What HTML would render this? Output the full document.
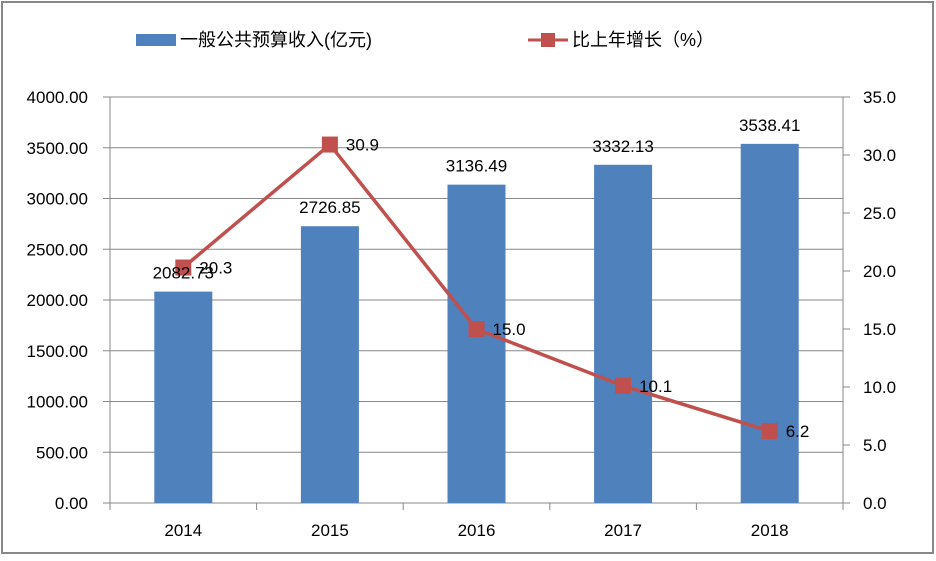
<!DOCTYPE html>
<html><head><meta charset="utf-8"><style>
body{margin:0;background:#fff}
svg text{font-family:"Liberation Sans","Noto Sans CJK SC",sans-serif;fill:#000}
</style></head><body>
<svg id="c" width="936" height="556" xmlns="http://www.w3.org/2000/svg">
<rect x="2" y="2" width="931" height="551" fill="#fff" stroke="#888" stroke-width="2"/>
<g id="grid"></g><g id="bars"></g><g id="line"></g><g id="labels"></g>
<g>
<rect x="136" y="34" width="40" height="12" fill="#4f81bd"/>
<text x="180" y="46" font-size="18">一般公共预算收入(亿元)</text>
<line x1="528" y1="40" x2="568" y2="40" stroke="#c0504d" stroke-width="3"/>
<rect x="541" y="33" width="14" height="14" fill="#c0504d"/>
<text x="572" y="46" font-size="18">比上年增长（%）</text>
</g>
</svg>
<script>
const categories=["2014","2015","2016","2017","2018"];
const revenue=[2082.73,2726.85,3136.49,3332.13,3538.41];
const growth=[20.3,30.9,15.0,10.1,6.2];
const leftTicks=[0,500,1000,1500,2000,2500,3000,3500,4000];
const rightTicks=[0,5,10,15,20,25,30,35];
const NS="http://www.w3.org/2000/svg";
const X0=110,X1=843,Y0=503,Y1=97;
const yL=v=>Y0-(v/4000)*(Y0-Y1);
const yR=v=>Y0-(v/35)*(Y0-Y1);
const step=(X1-X0)/categories.length;
const xC=i=>X0+step*(i+0.5);
function mk(tag,attrs,parent,txt){const e=document.createElementNS(NS,tag);for(const k in attrs)e.setAttribute(k,attrs[k]);if(txt!==undefined)e.textContent=txt;document.getElementById(parent).appendChild(e);return e;}
leftTicks.forEach(t=>{
 const y=yL(t);
 const l=mk("line",{x1:103,y1:y,x2:X1,y2:y,stroke:"#888","stroke-width":1},"grid");
 
 
 const tx=mk("text",{x:88,y:y+6,"font-size":17,"text-anchor":"end"},"grid",t.toFixed(2));
 
 
});
rightTicks.forEach(t=>{
 const y=yR(t);
 const l=mk("line",{x1:X1,y1:y,x2:850,y2:y,stroke:"#888","stroke-width":1},"grid");
 
 
 const tx=mk("text",{x:863,y:y+6,"font-size":17},"grid",t.toFixed(1));
 
 
});
const ax=mk("line",{x1:X0,y1:Y1,x2:X0,y2:Y0+7,stroke:"#888"},"grid");


const ax2=mk("line",{x1:X1,y1:Y1,x2:X1,y2:Y0+7,stroke:"#888"},"grid");


categories.forEach((c,i)=>{
 const tk=mk("line",{x1:X0+step*(i+1),y1:Y0,x2:X0+step*(i+1),y2:Y0+7,stroke:"#888"},"grid");
 
 
 const tx=mk("text",{x:xC(i),y:536,"font-size":17,"text-anchor":"middle"},"labels",c);
 
 
 const y=yL(revenue[i]);
 const b=mk("rect",{x:xC(i)-29,y:y,width:58,height:Y0-y,fill:"#4f81bd"},"bars");
 
 
 const bl=mk("text",{x:xC(i),y:y-13,"font-size":17,"text-anchor":"middle"},"labels",revenue[i].toFixed(2));
 
 
});
const pts=growth.map((g,i)=>xC(i)+","+yR(g)).join(" ");
const pl=mk("polyline",{points:pts,fill:"none",stroke:"#c0504d","stroke-width":3.5},"line");


growth.forEach((g,i)=>{
 const m=mk("rect",{x:xC(i)-8,y:yR(g)-8,width:16,height:16,fill:"#c0504d"},"line");
 
 
 const t=mk("text",{x:xC(i)+16,y:yR(g)+6,"font-size":17},"labels",g.toFixed(1));
 
 
});
</script>
</body></html>
